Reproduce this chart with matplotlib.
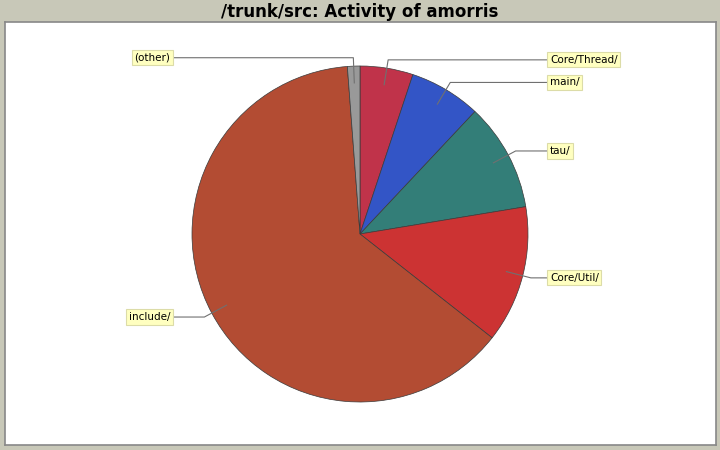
import numpy as np
import matplotlib
matplotlib.use("Agg")
import matplotlib.pyplot as plt

categories = ["Core/Thread/", "main/", "tau/", "Core/Util/", "include/", "(other)"]
values = [5.1, 6.9, 10.4, 13.2, 63.2, 1.2]
colors = ["#C0334A", "#3355C6", "#337E78", "#CC3333", "#B34C33", "#999999"]

W, H = 720, 450
fig = plt.figure(figsize=(W / 100, H / 100), dpi=100)
fig.patch.set_facecolor("#C8C8B8")

# plot area in pixels
L, T, R_, B = 5, 22, 716, 445
ax = fig.add_axes([L / W, 1 - B / H, (R_ - L) / W, (B - T) / H])
aw, ah = R_ - L, B - T
ax.set_xlim(0, aw)
ax.set_ylim(0, ah)
ax.set_facecolor("white")
for s in ax.spines.values():
    s.set_color("#888888")
    s.set_linewidth(1.2)
ax.set_xticks([])
ax.set_yticks([])

cx, cy = 360 - L, B - 234
rad = 168

wedges, _ = ax.pie(values, colors=colors, startangle=90, counterclock=False,
                   center=(cx, cy), radius=rad, frame=True,
                   wedgeprops=dict(edgecolor="#3a3a3a", linewidth=0.5))
ax.set_xlim(0, aw)
ax.set_ylim(0, ah)
ax.set_aspect("auto")

total = sum(values)
cum = 0
for cat, v in zip(categories, values):
    mid = (cum + v / 2) / total * 2 * np.pi
    cum += v
    sx, sy = np.sin(mid), np.cos(mid)
    ax_, ay_ = cx + 0.9 * rad * sx, cy + 0.9 * rad * sy
    ex, ey = cx + 1.05 * rad * sx, cy + 1.05 * rad * sy
    if sx >= 0:
        lx = cx + 190
        ha = "left"
    else:
        lx = cx - 190
        ha = "right"
    ax.plot([ax_, ex, lx], [ay_, ey, ey], color="#707070", lw=0.8, zorder=3)
    ax.text(lx, ey, cat, ha=ha, va="center", fontsize=7.5, family="DejaVu Sans",
            color="black", zorder=4,
            bbox=dict(boxstyle="square,pad=0.25", fc="#FFFFC0", ec="#DCDCA8", lw=0.8))

fig.text(0.5, 1 - 12 / H, "/trunk/src: Activity of amorris", ha="center", va="center",
         fontsize=12, fontweight="bold", family="DejaVu Sans")

fig.savefig("out.png", dpi=100, facecolor=fig.get_facecolor())
